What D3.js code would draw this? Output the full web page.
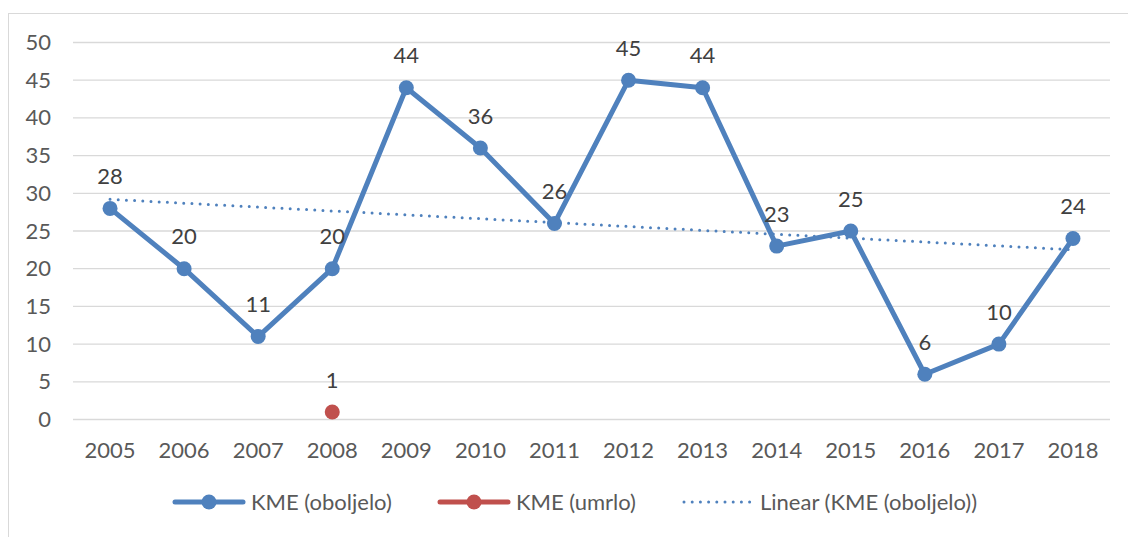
<!DOCTYPE html>
<html>
<head>
<meta charset="utf-8">
<script src="https://cdn.jsdelivr.net/npm/d3@7"></script>
<style>
  body{margin:0;background:#fff}
  text{font-family:Lato,"Open Sans",sans-serif}
</style>
</head>
<body>
<svg id="chart" width="1128" height="537"></svg>
<script>
const years=["2005","2006","2007","2008","2009","2010","2011","2012","2013","2014","2015","2016","2017","2018"]
const oboljelo=[28,20,11,20,44,36,26,45,44,23,25,6,10,24]
const umrlo=[null,null,null,1,null,null,null,null,null,null,null,null,null,null]
const yticks=[0,5,10,15,20,25,30,35,40,45,50]
const legend=["KME (oboljelo)","KME (umrlo)","Linear (KME (oboljelo))"]

const blue="#4f81bd"
const red="#c0504d"
const fs="22px"

const svg=d3.select("#chart")

// outer chart frame
svg.append("rect")
  .attr("x",8.5).attr("y",13.5)
  .attr("width",1140).attr("height",540)
  .attr("fill","none").attr("stroke","#d9d9d9")

const xscale=d3.scaleBand().domain(years).range([73,1110])
const yscale=d3.scaleLinear().domain([0,50]).range([419.5,42.5])
const cx=d=>xscale(d)+xscale.bandwidth()/2

// gridlines
svg.append("g").selectAll("line")
  .data(yticks)
  .enter()
  .append("line")
  .attr("x1",73).attr("x2",1110)
  .attr("y1",d=>yscale(d)).attr("y2",d=>yscale(d))
  .attr("stroke","#d9d9d9").attr("stroke-width",1.3)

// y axis labels
const yaxis=d3.axisLeft(yscale).tickValues(yticks).tickSize(0).tickPadding(0)
svg.append("g")
  .attr("transform","translate(51,0)")
  .call(yaxis)
  .call(g=>g.select(".domain").remove())
  .selectAll("text")
  .attr("fill","#595959")
  .style("font-size",fs)
  .style("font-family","Lato")

// x axis labels
const xaxis=d3.axisBottom(xscale).tickSize(0).tickPadding(0)
svg.append("g")
  .attr("transform","translate(0,442)")
  .call(xaxis)
  .call(g=>g.select(".domain").remove())
  .selectAll("text")
  .attr("fill","#595959")
  .style("font-size",fs)
  .style("font-family","Lato")

// trendline (least squares on oboljelo)
const n=oboljelo.length
const mx=d3.mean(d3.range(n)), my=d3.mean(oboljelo)
const slope=d3.sum(oboljelo,(y,i)=>(i-mx)*(y-my))/d3.sum(d3.range(n),i=>(i-mx)*(i-mx))
const icpt=my-slope*mx
svg.append("line")
  .attr("x1",cx(years[0])).attr("y1",yscale(icpt))
  .attr("x2",cx(years[n-1])).attr("y2",yscale(icpt+slope*(n-1)))
  .attr("stroke",blue).attr("stroke-width",3)
  .attr("stroke-linecap","round")
  .attr("stroke-dasharray","0,8.2")

// oboljelo line
const line=d3.line().x((d,i)=>cx(years[i])).y(d=>yscale(d))
svg.append("path")
  .datum(oboljelo)
  .attr("d",line)
  .attr("fill","none")
  .attr("stroke",blue).attr("stroke-width",5)
  .attr("stroke-linejoin","round")

svg.append("g").selectAll("circle")
  .data(oboljelo)
  .enter()
  .append("circle")
  .attr("cx",(d,i)=>cx(years[i]))
  .attr("cy",d=>yscale(d))
  .attr("r",7.5)
  .attr("fill",blue)

svg.append("g").selectAll("text")
  .data(oboljelo)
  .enter()
  .append("text")
  .attr("x",(d,i)=>cx(years[i]))
  .attr("y",d=>yscale(d)-32)
  .attr("dy","0.35em")
  .attr("text-anchor","middle")
  .attr("fill","#404040")
  .style("font-size",fs)
  .text(d=>d)

// umrlo points
const um=umrlo.map((d,i)=>[years[i],d]).filter(d=>d[1]!==null)
svg.append("g").selectAll("circle")
  .data(um)
  .enter()
  .append("circle")
  .attr("cx",d=>cx(d[0]))
  .attr("cy",d=>yscale(d[1]))
  .attr("r",7.5)
  .attr("fill",red)
svg.append("g").selectAll("text")
  .data(um)
  .enter()
  .append("text")
  .attr("x",d=>cx(d[0]))
  .attr("y",d=>yscale(d[1])-32)
  .attr("dy","0.35em")
  .attr("text-anchor","middle")
  .attr("fill","#404040")
  .style("font-size",fs)
  .text(d=>d[1])

// legend
const lx=[173,438,683]
const lg=svg.append("g").attr("transform","translate(0,502)")
lg.selectAll("g")
  .data(legend)
  .enter()
  .append("g")
  .each(function(d,i){
    const g=d3.select(this)
    if(i<2){
      g.append("line")
        .attr("x1",lx[i]+2).attr("x2",lx[i]+70)
        .attr("stroke",i===0?blue:red).attr("stroke-width",5)
        .attr("stroke-linecap","round")
      g.append("circle")
        .attr("cx",lx[i]+36).attr("r",7.5)
        .attr("fill",i===0?blue:red)
    }else{
      g.append("line")
        .attr("x1",lx[i]+1).attr("x2",lx[i]+68)
        .attr("stroke",blue).attr("stroke-width",3)
        .attr("stroke-linecap","round")
        .attr("stroke-dasharray","0,8.2")
    }
    g.append("text")
      .attr("x",lx[i]+(i===2?77:78))
      .attr("dy","0.35em")
      .attr("fill","#595959")
      .style("font-size",fs)
      .text(d)
  })
</script>
</body>
</html>
